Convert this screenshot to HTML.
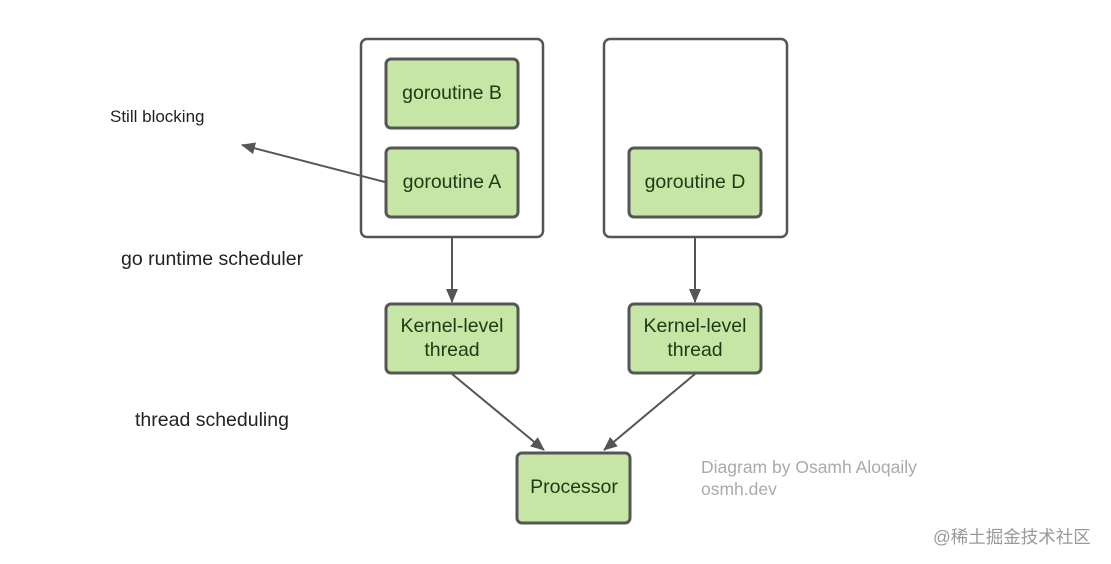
<!DOCTYPE html>
<html><head><meta charset="utf-8"><style>
body{margin:0;background:#fff;}
svg{display:block;font-family:"Liberation Sans",Arial,sans-serif;}
</style></head><body>
<svg width="1111" height="564" viewBox="0 0 1111 564">
<defs>
<marker id="b" markerWidth="14" markerHeight="12" refX="13" refY="6" orient="auto" markerUnits="userSpaceOnUse" viewBox="0 0 14 12"><path d="M0,0 L14,6 L0,12 z" fill="#555"/></marker></defs>
<g fill="#fff" stroke="#555" stroke-width="2.5">
<rect x="361" y="39" width="182" height="198" rx="6"/>
<rect x="604" y="39" width="183" height="198" rx="6"/>
</g>
<g fill="#c6e6a6" stroke="#555" stroke-width="3">
<rect x="386" y="59" width="132" height="69" rx="5"/>
<rect x="386" y="148" width="132" height="69" rx="5"/>
<rect x="629" y="148" width="132" height="69" rx="5"/>
<rect x="386" y="304" width="132" height="69" rx="5"/>
<rect x="629" y="304" width="132" height="69" rx="5"/>
<rect x="517" y="453" width="113" height="70" rx="5"/>
</g>
<g stroke="#555" stroke-width="2" fill="none">
<line x1="452" y1="238" x2="452" y2="302" marker-end="url(#b)"/>
<line x1="695" y1="238" x2="695" y2="302" marker-end="url(#b)"/>
<line x1="452" y1="374" x2="544" y2="450" marker-end="url(#b)"/>
<line x1="695" y1="374" x2="604" y2="450" marker-end="url(#b)"/>
<line x1="385" y1="182" x2="242" y2="145" marker-end="url(#b)"/>
</g>
<g fill="#1e3a14" font-size="19.5" text-anchor="middle">
<text x="452" y="99">goroutine B</text>
<text x="452" y="188">goroutine A</text>
<text x="695" y="188">goroutine D</text>
<text x="452" y="332">Kernel-level</text>
<text x="452" y="356">thread</text>
<text x="695" y="332">Kernel-level</text>
<text x="695" y="356">thread</text>
<text x="574" y="493">Processor</text>
</g>
<g fill="#222">
<text x="110" y="122" font-size="17">Still blocking</text>
<text x="121" y="265" font-size="19.5">go runtime scheduler</text>
<text x="135" y="426" font-size="19.5">thread scheduling</text>
</g>
<g fill="#aaa" font-size="17.5">
<text x="701" y="473">Diagram by Osamh Aloqaily</text>
<text x="701" y="495">osmh.dev</text>
</g>
<text x="933" y="543" fill="#999" font-size="17.5" font-family="'Liberation Sans','Noto Sans CJK SC',sans-serif">@稀土掘金技术社区</text>
</svg>
</body></html>
